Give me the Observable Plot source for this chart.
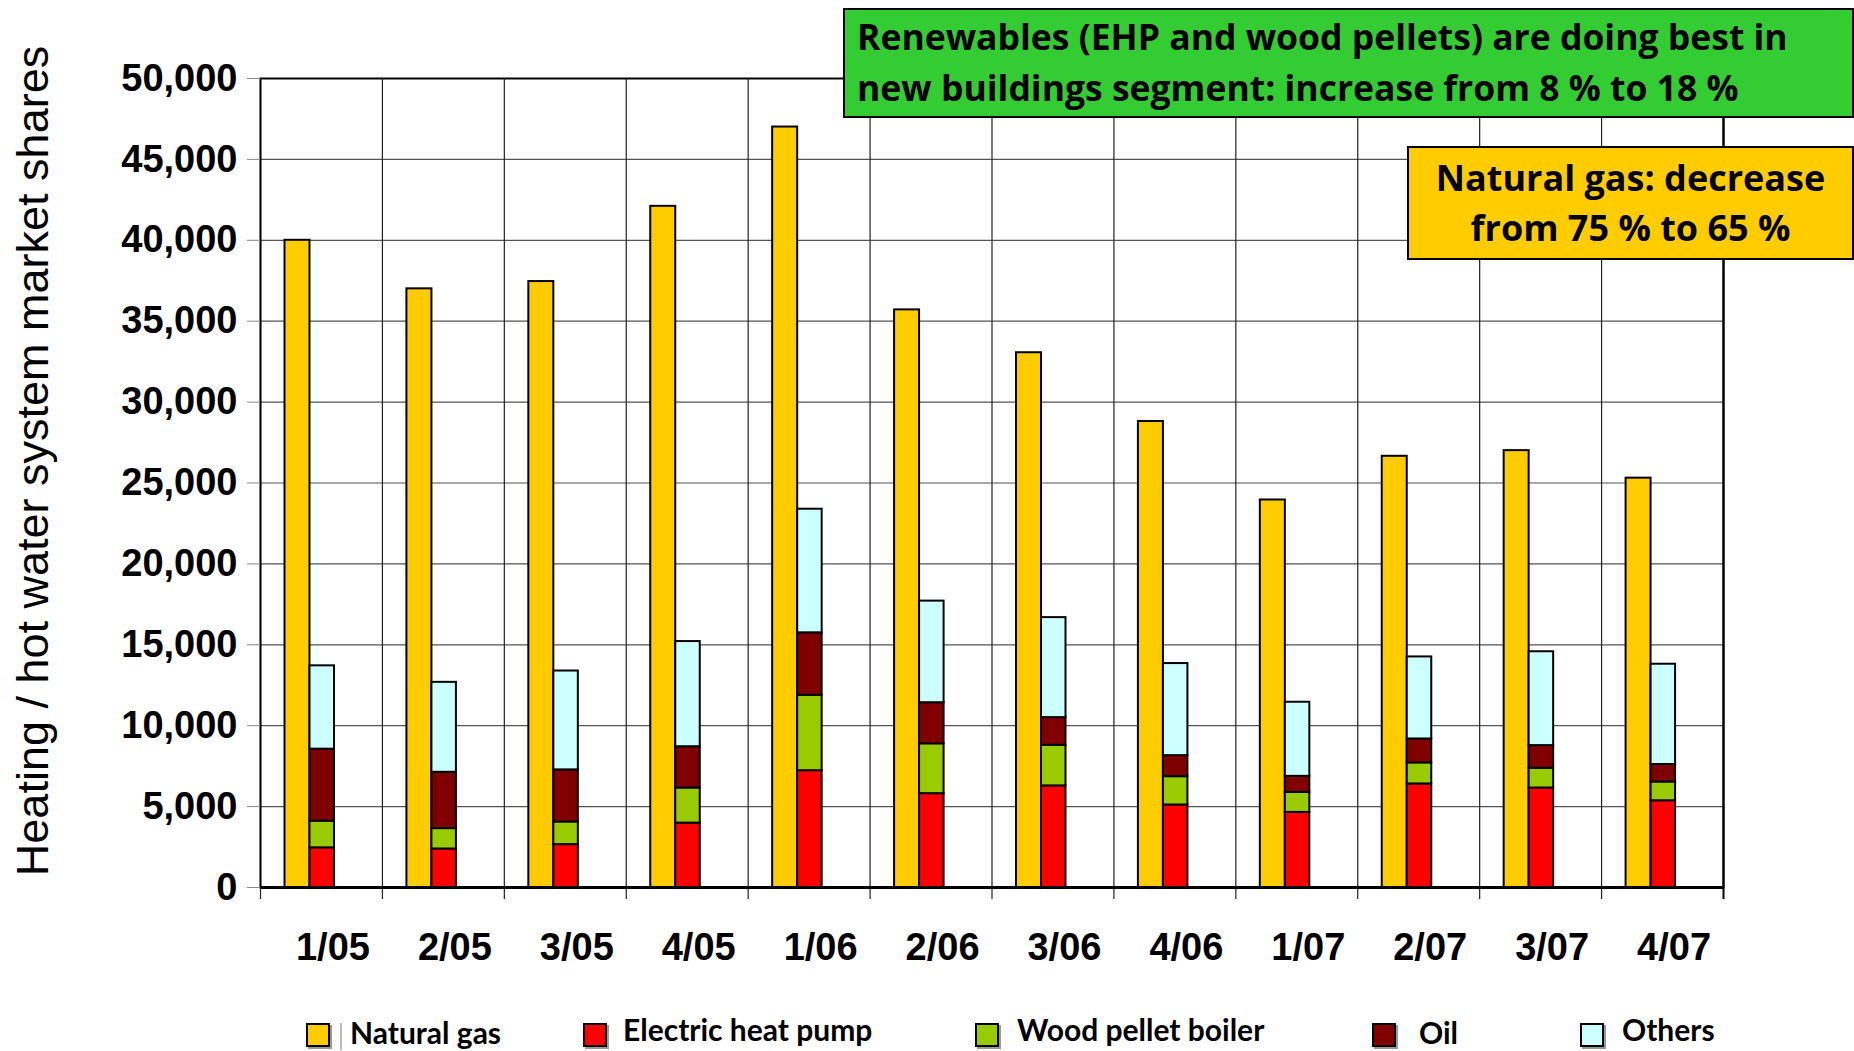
<!DOCTYPE html>
<html><head><meta charset="utf-8">
<script src="https://cdn.jsdelivr.net/npm/d3@7"></script>
<script src="https://cdn.jsdelivr.net/npm/@observablehq/plot@0.6"></script>
<style>
html,body{margin:0;padding:0;background:#fff;}
#wrap{position:relative;width:1854px;height:1051px;overflow:hidden;}
#chart svg{display:block;}
.box{position:absolute;box-sizing:border-box;border:2px solid #000;font-family:"Open Sans",sans-serif;font-weight:700;color:#000;white-space:pre;}
.line{position:absolute;line-height:1;}
#legend{position:relative;width:1854px;height:39px;}
.sw{position:absolute;top:11px;width:24px;height:24px;box-sizing:border-box;border:2px solid #000;box-shadow:2px 2px 0 #999;}
.lt{position:absolute;font-family:Lato,sans-serif;font-weight:700;font-size:30px;line-height:1;white-space:pre;color:#000;}
</style></head>
<body><div id="wrap"><div id="chart"></div><div id="legend"></div>
<div class="box" id="green" style="left:843px;top:8px;width:1011px;height:110px;background:#33CC33;"></div>
<div class="box" id="yellow" style="left:1407px;top:146px;width:447px;height:114px;background:#FFCC00;"></div>
</div>
<script>
const periods = ["1/05","2/05","3/05","4/05","1/06","2/06","3/06","4/06","1/07","2/07","3/07","4/07"];
const naturalGas       = [40000, 37000, 37450, 42100, 47000, 35700, 33050, 28800, 23950, 26650, 27000, 25300];
const electricHeatPump = [2450, 2380, 2650, 3980, 7220, 5800, 6280, 5100, 4640, 6400, 6150, 5360];
const woodPellet       = [1650, 1260, 1400, 2170, 4660, 3080, 2510, 1750, 1240, 1300, 1220, 1160];
const oil              = [4450, 3480, 3220, 2550, 3860, 2540, 1710, 1300, 990, 1480, 1400, 1080];
const others           = [5150, 5560, 6110, 6500, 7640, 6280, 6180, 5690, 4580, 5070, 5800, 6200];
const seriesNames  = ["Natural gas", "Electric heat pump", "Wood pellet boiler", "Oil", "Others"];
const seriesColors = ["#FFCC00", "#FF0000", "#99CC00", "#800000", "#CCFFFF"];
const yTicks = [0, 5000, 10000, 15000, 20000, 25000, 30000, 35000, 40000, 45000, 50000];
const yTitle = "Heating / hot water system market shares";
const note1 = ["Renewables (EHP and wood pellets) are doing best in", "new buildings segment: increase from 8 % to 18 %"];
const note2 = ["Natural gas: decrease", "from 75 % to 65 %"];

const gasRows = periods.map((p, i) => ({period: p, value: naturalGas[i]}));
const stackSeries = [electricHeatPump, woodPellet, oil, others];
const stackRows = [];
periods.forEach((p, i) => stackSeries.forEach((s, k) => stackRows.push({period: p, series: seriesNames[k + 1], value: s[i]})));

const W = 1854, H = 1012, mL = 260, mR = 131, mT = 78, mB = 125;
const bw = (W - mL - mR) / periods.length;

const chart = Plot.plot({
  width: W, height: H,
  marginLeft: mL, marginRight: mR, marginTop: mT, marginBottom: mB,
  style: {background: "#fff", overflow: "visible"},
  x: {type: "band", domain: periods, paddingInner: 0, paddingOuter: 0, round: false, axis: null},
  y: {domain: [0, 50000], axis: null},
  color: {domain: seriesNames, range: seriesColors},
  marks: [
    Plot.gridY(yTicks, {stroke: "#555", strokeOpacity: 1, strokeWidth: 1.2}),
    Plot.ruleX(periods, {x: d => d, dx: -bw / 2, stroke: "#222", strokeWidth: 1.2, insetBottom: -12}),
    Plot.ruleX(periods.slice(-1), {x: d => d, dx: bw / 2, stroke: "#000", strokeWidth: 2, insetBottom: -12}),
    Plot.barY(gasRows, {x: "period", y: "value", fill: seriesColors[0], stroke: "#000", strokeWidth: 2,
      insetLeft: 24.5, insetRight: bw - 49.5}),
    Plot.barY(stackRows, {x: "period", y: "value", fill: "series", stroke: "#000", strokeWidth: 2,
      insetLeft: 49.5, insetRight: bw - 74}),
    Plot.frame({stroke: "#000", strokeWidth: 2}),
    Plot.ruleY([0], {stroke: "#000", strokeWidth: 3}),
    Plot.axisY({ticks: yTicks, tickFormat: d3.format(","), tickSize: 13, tickPadding: 10, stroke: "#888", fill: "#000",
      fontSize: 38, fontWeight: "bold", fontFamily: "Liberation Sans, Arial, sans-serif", label: null}),
    Plot.axisX({tickSize: 0, tickPadding: 46, dx: 11.5, fontSize: 38, fontWeight: "bold",
      fontFamily: "Liberation Sans, Arial, sans-serif", fill: "#000", label: null}),
    Plot.text([yTitle], {frameAnchor: "left", text: d => d, rotate: -90, dx: -227, dy: -22, fontSize: 45,
      fontFamily: "Liberation Sans, Arial, sans-serif", fill: "#000", textAnchor: "middle", lineAnchor: "middle"})
  ]
});
document.getElementById("chart").appendChild(chart);

// legend
const legend = document.getElementById("legend");
const swLeft = [306, 583, 975, 1372, 1580];
const txLeft = [350, 623, 1017, 1419, 1622];
const txTop = [5, 2, 2, 5, 2];
seriesNames.forEach((n, i) => {
  const s = document.createElement("div"); s.className = "sw"; s.style.left = swLeft[i] + "px"; s.style.background = seriesColors[i];
  legend.appendChild(s);
  const t = document.createElement("div"); t.className = "lt"; t.style.left = txLeft[i] + "px"; t.style.top = txTop[i] + "px"; t.textContent = n;
  legend.appendChild(t);
});
const sep = document.createElement("div");
sep.style.cssText = "position:absolute;left:340px;top:11px;width:2px;height:27px;background:#bbb;";
legend.appendChild(sep);

// notes
const green = document.getElementById("green");
note1.forEach((l, i) => {
  const d = document.createElement("div"); d.className = "line";
  d.style.cssText = `left:12px;top:${9 + i * 51}px;font-size:35.5px;`;
  d.textContent = l; green.appendChild(d);
});
const yellow = document.getElementById("yellow");
note2.forEach((l, i) => {
  const d = document.createElement("div"); d.className = "line";
  d.style.cssText = `left:0;width:100%;text-align:center;top:${12 + i * 50}px;font-size:36px;`;
  d.textContent = l; yellow.appendChild(d);
});
</script></body></html>
